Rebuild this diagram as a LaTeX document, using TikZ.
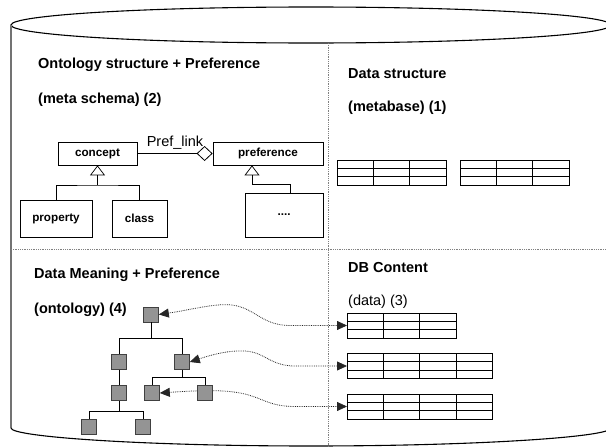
\documentclass[tikz,border=0pt]{standalone}
\usepackage{fontspec}
\setmainfont{Liberation Sans}
\usetikzlibrary{positioning}
\usetikzlibrary{arrows.meta}
\usetikzlibrary{calc}
\usetikzlibrary{backgrounds}

\newcommand\dbtable[4]{% name, x, y, columns
  \node[tbl, minimum width=#4*36.3pt] (#1) at (#2,#3) {};
  \foreach \k in {1,...,#4}
    \draw[line width=0.7pt] ([xshift=\k*36.3pt]#1.north west) -- ([xshift=\k*36.3pt]#1.south west);
  \draw[line width=0.7pt] ($(#1.north west)!1/3!(#1.south west)$) -- ($(#1.north east)!1/3!(#1.south east)$);
  \draw[line width=0.7pt] ($(#1.north west)!2/3!(#1.south west)$) -- ($(#1.north east)!2/3!(#1.south east)$);
}

\begin{document}
\begin{tikzpicture}[x=1pt,y=-1pt,
  cyl/.style={line width=1.1pt},
  divider/.style={densely dotted,gray,line width=0.8pt},
  head/.style={anchor=west,inner sep=0pt,font=\bfseries\fontsize{14.5}{17}\selectfont},
  plain/.style={anchor=west,inner sep=0pt,font=\fontsize{14.5}{17}\selectfont},
  cls/.style={draw,line width=0.8pt,inner sep=0pt,minimum height=23pt,font=\bfseries\fontsize{11.7}{14}\selectfont},
  sq/.style={draw=black!75,fill=black!42,minimum size=15pt,inner sep=0pt,line width=0.6pt},
  tbl/.style={draw,line width=0.7pt,inner sep=0pt,outer sep=0pt,minimum height=25pt,anchor=west},
  link/.style={densely dotted,black!85,line width=0.8pt,{Triangle[length=10pt,width=9pt]}-{Triangle[length=10pt,width=9pt]}},
  isa/.style={-{Triangle[open,length=10pt,width=15pt,line width=0.7pt]}}]
 \useasboundingbox (0,0) rectangle (606,447);
 \clip (0,0) rectangle (606,447);

 \draw[cyl] (311,25) ellipse [x radius=300, y radius=18];
 \draw[cyl,black!55,line width=1.5pt] (11,25) -- (11,428);
 \draw[cyl] (11,428) .. controls (11,437) and (145,446) .. (311,446) .. controls (477,446) and (611,437) .. (611,428) -- (611,25);
 \draw[divider] (328,43) -- (328,447);
 \draw[divider] (11,249) -- (611,249);

 \node[head] (ontohead) at (38,65) {Ontology structure + Preference};
 \node[head] (metaschema) at (38,100) {(meta schema) (2)};
 \node[head] (datahead) at (348,74) {Data structure};
 \node[head] (metabase) at (348,108) {(metabase) (1)};
 \node[head] (meanhead) at (34,275) {Data Meaning + Preference};
 \node[head] (ontology) at (34,310) {(ontology) (4)};
 \node[head] (dbhead) at (348,268) {DB Content};
 \node[plain] (datalbl) at (348,302) {(data) (3)};

 \node[cls, minimum width=79pt] (concept) at (97.5,153.5) {concept};
 \node[cls, minimum width=110pt] (preference) at (268,153.5) {preference};
 \node[cls, minimum width=72pt, minimum height=37pt] (property) at (56,218.5) {property};
 \node[cls, minimum width=55pt, minimum height=37pt] (class) at (139.5,218.5) {class};
 \node[cls, minimum width=78pt, minimum height=44pt] (more) at (284,215) {....};
 \draw[line width=0.8pt,-{Diamond[open,length=16pt,width=15pt,line width=0.8pt]}] (concept) -- node[above,font=\fontsize{14.5}{17}\selectfont] (preflink) {Pref\_link} (preference);
 \coordinate (cj) at (97.5,185);
 \draw[line width=0.8pt] (property) |- (cj) -| (class);
 \draw[isa,line width=1.8pt] (cj) -- (concept);
 \coordinate (pj) at (252,184);
 \draw[line width=0.8pt] ([xshift=6pt]more.north) |- (pj);
 \draw[isa,line width=0.8pt] (pj) -- (pj |- preference.south);

 \dbtable{m1}{337}{172.5}{3}
 \dbtable{m2}{460}{172.5}{3}
 \dbtable{d1}{347}{325.5}{3}
 \dbtable{d2}{347}{366}{4}
 \dbtable{d3}{347}{406.5}{4}

 \node[sq] (root) at (151,314.5) {};
 \node[sq] (l1) at (119,362) {};
 \node[sq] (r1) at (182,362) {};
 \node[sq] (l2) at (119,393) {};
 \node[sq] (m2) at (152,393) {};
 \node[sq] (r2) at (205,393) {};
 \node[sq] (l3) at (89,427) {};
 \node[sq] (r3) at (143,427) {};
 \coordinate (t1) at (151,338);
 \coordinate (t2) at (182,377);
 \coordinate (t3) at (119,411);
 \draw[line width=0.7pt] (root) -- (t1) -| (l1) (t1) -| (r1);
 \draw[line width=0.7pt] (l1) -- (l2);
 \draw[line width=0.7pt] (r1) -- (t2) -| (m2) (t2) -| (r2);
 \draw[line width=0.7pt] (l2) -- (t3) -| (l3) (t3) -| (r3);

 \begin{scope}[on background layer]
 \draw[link] (root.east) .. controls (190,310) and (215,303) .. (232,305) .. controls (255,308) and (262,325.5) .. (290,325.5) -- (d1.west);
 \draw[link] (r1.east) .. controls (205,357) and (225,350) .. (245,351) .. controls (265,352) and (270,366) .. (295,366) -- (d2.west);
 \draw[link] (m2.east) .. controls (190,391) and (220,389) .. (240,393) .. controls (262,397) and (268,406.5) .. (295,406.5) -- (d3.west);
 \end{scope}
\end{tikzpicture}
\end{document}
